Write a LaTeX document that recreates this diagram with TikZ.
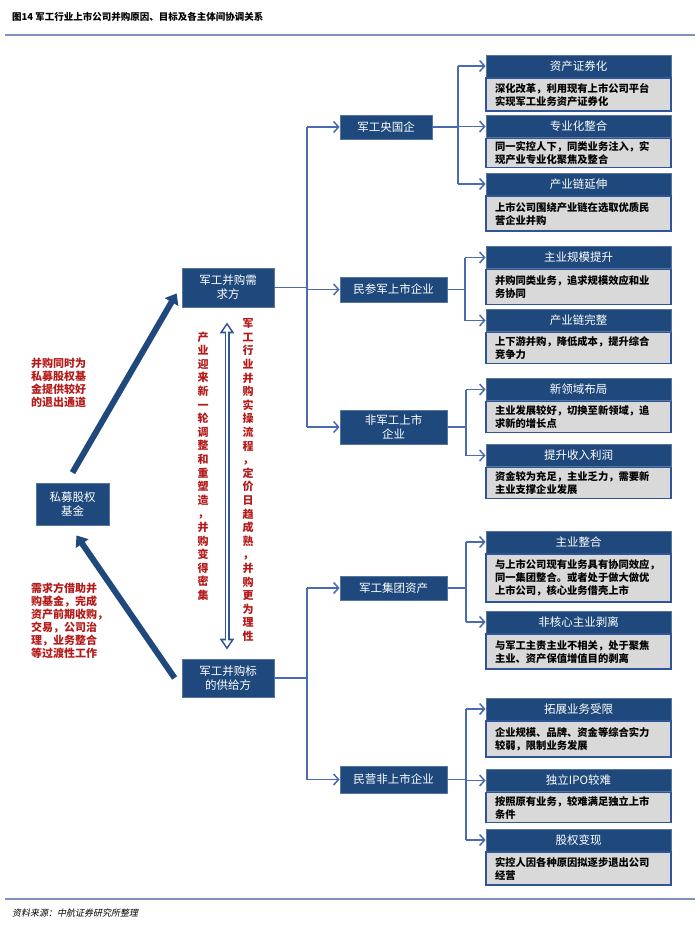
\documentclass[tikz,border=0pt]{standalone}
\usepackage{fontspec}
\setmainfont{Noto Sans CJK SC}
\newfontfamily\srcfont[FakeSlant=0.2]{Noto Sans CJK SC}
\usepackage{tikz}
\usetikzlibrary{arrows.meta}
\usetikzlibrary{positioning}
\definecolor{navy}{HTML}{1F497D}
\definecolor{linkblue}{HTML}{4A6BAF}
\definecolor{bodyblue}{HTML}{2F5597}
\definecolor{bodygray}{HTML}{D9D9D9}
\definecolor{darkred}{HTML}{B51A1A}
\definecolor{rulecol}{HTML}{7C93C2}
\tikzstyle{mainbox}=[rectangle, fill=navy, draw=navy!75!white, line width=0.8pt, text=white, align=center, inner sep=0pt, font=\fontsize{11.5}{14}\selectfont]
\tikzstyle{headbox}=[rectangle, fill=navy, draw=navy!75!white, line width=0.8pt, text=white, minimum width=185pt, minimum height=22pt, inner sep=0pt, font=\fontsize{11.5}{14}\selectfont]
\tikzstyle{bodybox}=[rectangle, fill=bodygray, draw=bodyblue, line width=1.5pt, text width=167pt, inner xsep=9pt, inner ysep=2pt, align=left, font=\bfseries\fontsize{10.3}{13}\selectfont]
\tikzstyle{link}=[linkblue, line width=1.5pt]
\tikzstyle{linktip}=[-{Straight Barb[length=5pt,width=11pt]}]
\tikzstyle{bigarrow}=[-{Triangle[length=10pt,width=15pt]}, line width=6pt, navy]
\tikzstyle{dblouter}=[{Triangle[length=11pt,width=14pt]}-{Triangle[length=11pt,width=14pt]}, line width=5pt, bodyblue]
\tikzstyle{dblinner}=[{Triangle[length=6.5pt,width=8pt]}-{Triangle[length=6.5pt,width=8pt]}, line width=2.4pt, white, shorten >=2.8pt, shorten <=2.8pt]
\tikzstyle{note}=[text=darkred, align=left, inner sep=0pt, font=\bfseries\fontsize{11}{13}\selectfont]
\tikzstyle{vnote}=[text=darkred, align=center, inner sep=0pt, font=\bfseries\fontsize{11}{13.6}\selectfont]

\begin{document}
\begin{tikzpicture}[x=1pt,y=-1pt]
  \useasboundingbox (0,0) rectangle (700,926);
  % title and source
  \node[anchor=west, inner sep=0pt, font=\bfseries\fontsize{9.5}{11}\selectfont] (title) at (12,17) {图14\ 军工行业上市公司并购原因、目标及各主体间协调关系};
  \draw[rulecol, line width=1.2pt] (5,35) -- (695,35);
  \draw[rulecol, line width=1.2pt] (5,899) -- (695,899);
  \node[anchor=west, inner sep=0pt, font=\srcfont\fontsize{9}{11}\selectfont] (source) at (12,913) {资料来源：中航证券研究所整理};

  % left side
  \node[mainbox, minimum width=92pt, minimum height=39pt] (need) at (228,287.5) {军工并购需\\求方};
  \node[mainbox, minimum width=92pt, minimum height=38pt] (supply) at (228,678) {军工并购标\\的供给方};
  \node[mainbox, minimum width=73pt, minimum height=42pt] (fund) at (72.5,504) {私募股权\\基金};
  \draw[bigarrow] ([yshift=10pt]fund.north) -- ([xshift=-5pt,yshift=14pt]need.south west);
  \draw[bigarrow] ([xshift=-7pt]supply.west) -- ([xshift=4pt,yshift=-10pt]fund.south);
  \draw[dblouter] ([xshift=-1pt,yshift=-15pt]need.south) -- ([xshift=-1pt,yshift=9pt]supply.north);
  \draw[dblinner] ([xshift=-1pt,yshift=-15pt]need.south) -- ([xshift=-1pt,yshift=9pt]supply.north);
  \node[note, anchor=north west] (exitnote) at (31,358) {并购同时为\\私募股权基\\金提供较好\\的退出通道};
  \node[note, anchor=north west] (helpnote) at (31,583) {需求方借助并\\购基金，完成\\资产前期收购，\\交易，公司治\\理，业务整合\\等过渡性工作};
  \node[vnote] (trendnote) at (203,466) {产\\业\\迎\\来\\新\\一\\轮\\调\\整\\和\\重\\塑\\造\\，\\并\\购\\变\\得\\密\\集};
  \node[vnote] (flownote) at (248,480) {军\\工\\行\\业\\并\\购\\实\\操\\流\\程\\，\\定\\价\\日\\趋\\成\\熟\\，\\并\\购\\更\\为\\理\\性};

  % middle column
  \node[mainbox, minimum width=92pt, minimum height=24pt] (yang) at (386,127) {军工央国企};
  \node[mainbox, minimum width=107pt, minimum height=25pt] (minsan) at (393.5,289.5) {民参军上市企业};
  \node[mainbox, minimum width=107pt, minimum height=34pt] (feijun) at (393.5,427) {非军工上市\\企业};
  \node[mainbox, minimum width=107pt, minimum height=24pt] (jituan) at (393.5,588) {军工集团资产};
  \node[mainbox, minimum width=107pt, minimum height=27pt] (minying) at (393.5,779.5) {民营非上市企业};

  \coordinate (trunkA) at (307,0);
  \draw[link] (need.east) -- (need.east -| trunkA);
  \draw[link] (trunkA |- yang.west) -- (trunkA |- feijun.west);
  \foreach \n in {yang,minsan,feijun}
    \draw[link,linktip] (trunkA |- \n.west) -- (\n.west);
  \draw[link] (supply.east) -- (supply.east -| trunkA);
  \draw[link] (trunkA |- jituan.west) -- (trunkA |- minying.west);
  \foreach \n in {jituan,minying}
    \draw[link,linktip] (trunkA |- \n.west) -- (\n.west);

  % right column
  \node[headbox] (zq) at (578.5,66) {资产证券化};
  \node[bodybox, minimum height=33pt, below=0pt of zq] (zqb) {深化改革，利用现有上市公司平台\\实现军工业务资产证券化};
  \node[headbox] (zy) at (578.5,126.5) {专业化整合};
  \node[bodybox, minimum height=29pt, below=0pt of zy] (zyb) {同一实控人下，同类业务注入，实\\现产业专业化聚焦及整合};
  \node[headbox] (cy) at (578.5,184) {产业链延伸};
  \node[bodybox, minimum height=35pt, below=0pt of cy] (cyb) {上市公司围绕产业链在选取优质民\\营企业并购};

  \node[headbox] (gm) at (578.5,257.5) {主业规模提升};
  \node[bodybox, minimum height=35pt, below=0pt of gm] (gmb) {并购同类业务，追求规模效应和业\\务协同};
  \node[headbox] (wz) at (578.5,320.5) {产业链完整};
  \node[bodybox, minimum height=31pt, below=0pt of wz] (wzb) {上下游并购，降低成本，提升综合\\竞争力};

  \node[headbox] (xl) at (578.5,389.5) {新领域布局};
  \node[bodybox, minimum height=31pt, below=0pt of xl] (xlb) {主业发展较好，切换至新领域，追\\求新的增长点};
  \node[headbox] (sr) at (578.5,455.5) {提升收入利润};
  \node[bodybox, minimum height=31pt, below=0pt of sr] (srb) {资金较为充足，主业乏力，需要新\\主业支撑企业发展};

  \node[headbox] (zh) at (578.5,542) {主业整合};
  \node[bodybox, minimum height=48pt, below=0pt of zh] (zhb) {与上市公司现有业务具有协同效应，\\同一集团整合。或者处于做大做优\\上市公司，核心业务借壳上市};
  \node[headbox] (fh) at (578.5,622) {非核心主业剥离};
  \node[bodybox, minimum height=35pt, below=0pt of fh] (fhb) {与军工主责主业不相关，处于聚焦\\主业、资产保值增值目的剥离};

  \node[headbox] (tz) at (578.5,709) {拓展业务受限};
  \node[bodybox, minimum height=36pt, below=0pt of tz] (tzb) {企业规模、品牌、资金等综合实力\\较弱，限制业务发展};
  \node[headbox] (ipo) at (578.5,780.5) {独立IPO较难};
  \node[bodybox, minimum height=30pt, below=0pt of ipo] (ipob) {按照原有业务，较难满足独立上市\\条件};
  \node[headbox] (gq) at (578.5,840) {股权变现};
  \node[bodybox, minimum height=33pt, below=0pt of gq] (gqb) {实控人因各种原因拟逐步退出公司\\经营};

  % branches to the right
  \coordinate (subA) at (458,0);
  \draw[link] (yang.east) -- (yang.east -| subA);
  \draw[link] (subA |- zq.west) -- (subA |- cy.west);
  \foreach \n in {zq,zy,cy}
    \draw[link,linktip] (subA |- \n.west) -- (\n.west);
  \coordinate (subB) at (465,0);
  \draw[link] (minsan.east) -- (minsan.east -| subB);
  \draw[link] (subB |- gm.west) -- (subB |- wz.west);
  \foreach \n in {gm,wz}
    \draw[link,linktip] (subB |- \n.west) -- (\n.west);
  \coordinate (subC) at (466,0);
  \draw[link] (feijun.east) -- (feijun.east -| subC);
  \draw[link] (subC |- xl.west) -- (subC |- sr.west);
  \foreach \n in {xl,sr}
    \draw[link,linktip] (subC |- \n.west) -- (\n.west);
  \draw[link] (jituan.east) -- (jituan.east -| subC);
  \draw[link] (subC |- zh.west) -- (subC |- fh.west);
  \foreach \n in {zh,fh}
    \draw[link,linktip] (subC |- \n.west) -- (\n.west);
  \draw[link] (minying.east) -- (minying.east -| subC);
  \draw[link] (subC |- tz.west) -- (subC |- gq.west);
  \foreach \n in {tz,ipo,gq}
    \draw[link,linktip] (subC |- \n.west) -- (\n.west);
\end{tikzpicture}
\end{document}
